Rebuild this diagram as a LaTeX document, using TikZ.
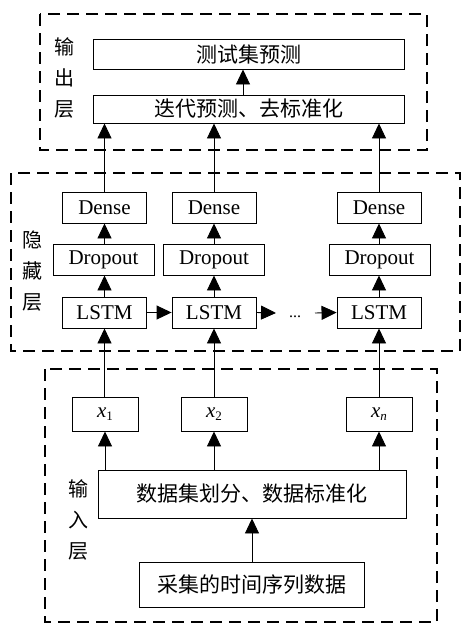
\documentclass[tikz,border=0pt]{standalone}
\usepackage{fontspec}
\setmainfont{Liberation Serif}
\newfontfamily\cjk{Noto Sans CJK SC}
\usetikzlibrary{arrows.meta}
\newcommand{\xsub}[1]{{\itshape x}\raisebox{-0.35ex}{\fontsize{13}{13}\selectfont #1}}
\begin{document}
\begin{tikzpicture}[x=1pt,y=-1pt,
  box/.style={draw,line width=0.9pt,inner sep=0pt,font=\fontsize{21}{25}\selectfont},
  cbox/.style={box,font=\fontsize{21}{25}\selectfont\cjk},
  frame/.style={draw,line width=1.8pt,dash pattern=on 12pt off 7pt},
  side/.style={align=center,inner sep=0pt,font=\fontsize{20}{31}\selectfont\cjk},
  arr/.style={line width=0.9pt,-{Triangle[width=14pt,length=15pt]}}]
\useasboundingbox (0,0) rectangle (463,624);
% dashed frames
\draw[frame] (40,14) rectangle (427,150);
\draw[frame] (11,173) rectangle (460,351);
\draw[frame] (45,369) rectangle (437,622);
% side labels
\node[side] (lout) at (64,78) {输\\出\\层};
\node[side] (lhid) at (33,271) {隐\\藏\\层};
\node[side] (lin) at (78,520) {输\\入\\层};
% output layer
\node[cbox,minimum width=311pt,minimum height=30pt] (pred) at (248.5,54) {测试集预测};
\node[cbox,minimum width=311pt,minimum height=28pt] (iter) at (248.5,109) {迭代预测、去标准化};
% hidden layer
\foreach \i/\cx/\dx in {1/104.5/103.5,2/214/214,3/379/379.5}{
  \node[box,minimum width=84pt,minimum height=31pt] (dense\i) at (\cx,207.5) {Dense};
  \node[box,minimum width=101pt,minimum height=31pt] (drop\i) at (\dx,259.5) {Dropout};
  \node[box,minimum width=84pt,minimum height=31pt] (lstm\i) at (\cx,312.5) {LSTM};
}
\node[inner sep=0pt,font=\fontsize{16}{16}\selectfont] (dots) at (295,317) {...};
\coordinate (d1) at (276,313);
\coordinate (d2) at (315,313);
% input layer
\node[box,minimum width=66pt,minimum height=34pt] (x1) at (105,414) {\xsub{1}};
\node[box,minimum width=66pt,minimum height=34pt] (x2) at (214,414) {\xsub{2}};
\node[box,minimum width=66pt,minimum height=34pt] (x3) at (379,414) {\xsub{\itshape n}};
\node[cbox,minimum width=308pt,minimum height=48pt] (split) at (252,494) {数据集划分、数据标准化};
\node[cbox,minimum width=225pt,minimum height=45pt] (collect) at (251.5,584.5) {采集的时间序列数据};
% connectors
\draw[arr] ([xshift=-5.5pt]iter.north) -- ([xshift=-5.5pt]pred.south);
\foreach \i in {1,2,3}{
  \draw[arr] (dense\i.north) -- (dense\i.north |- iter.south);
  \draw[arr] (drop\i.north -| dense\i.north) -- (dense\i.south);
  \draw[arr] (lstm\i.north) -- (lstm\i.north |- drop\i.south);
  \draw[arr] (x\i.north -| lstm\i.south) -- (lstm\i.south);
  \draw[arr] (x\i.south |- split.north) -- (x\i.south);
}
\draw[arr] (lstm1.east) -- (lstm2.west);
\draw[arr] (lstm2.east) -- (d1);
\draw[arr] (d2) -- (lstm3.west);
\draw[arr] (collect.north -| split.south) -- (split.south);
\end{tikzpicture}
\end{document}
